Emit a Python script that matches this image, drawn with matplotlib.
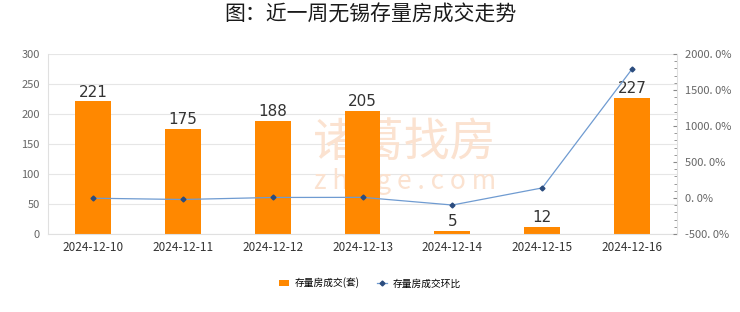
import numpy as np
import matplotlib.pyplot as plt
from matplotlib.ticker import MultipleLocator

plt.rcParams['font.family'] = ['Noto Sans CJK SC', 'DejaVu Sans']

dates = ['2024-12-10', '2024-12-11', '2024-12-12', '2024-12-13',
         '2024-12-14', '2024-12-15', '2024-12-16']
deals = [221, 175, 188, 205, 5, 12, 227]
ratio = [-3.0, -20.8, 7.4, 9.0, -97.6, 140.0, 1791.7]

left_ticks = [0, 50, 100, 150, 200, 250, 300]
right_ticks = [-500, 0, 500, 1000, 1500, 2000]
right_labels = ['-500. 0%', '0. 0%', '500. 0%', '1000. 0%', '1500. 0%', '2000. 0%']

fig = plt.figure(figsize=(7.4, 3.12), dpi=100)
ax = fig.add_axes([48/740, 1-234/312, 629/740, 180/312])
ax2 = ax.twinx()

x = np.arange(len(dates))
ax.bar(x, deals, width=0.4, color='#FF8800', zorder=2, label='存量房成交(套)')
for xi, v in zip(x, deals):
    ax.text(xi, v + 3, str(v), ha='center', va='bottom', fontsize=11,
            color='#333333', family='DejaVu Sans')

ax.set_xlim(-0.5, len(dates) - 0.5)
ax.set_ylim(0, 300)
ax.set_yticks(left_ticks)
ax.set_xticks(x)
ax.set_xticklabels(dates, fontsize=8.5, color='#333333')
ax.tick_params(axis='x', length=0, pad=5)
ax.tick_params(axis='y', length=0, labelsize=8, labelcolor='#666666', pad=6)
ax.grid(axis='y', color='#E6E6E6', linewidth=0.8, zorder=0)
ax.set_axisbelow(True)
for s in ['top', 'right']:
    ax.spines[s].set_visible(False)
ax.spines['left'].set_color('#E0E0E0')
ax.spines['bottom'].set_color('#E0E0E0')

# watermark
ax.text(3.47, 152, '诸葛找房', ha='center', va='center', fontsize=33,
        color='#FBE2D0', zorder=1)
ax.text(3.47, 88, 'z h u g e . c o m', ha='center', va='center', fontsize=19,
        color='#FBE2D0', zorder=1)

ax2.plot(x, ratio, color='#6F9BD1', linewidth=0.9, marker='D', markersize=2.5,
         markerfacecolor='#2B4C7E', markeredgecolor='#2B4C7E', label='存量房成交环比', zorder=3)
ax2.set_ylim(-500, 2000)
ax2.set_yticks(right_ticks)
ax2.set_yticklabels(right_labels)
ax2.yaxis.set_minor_locator(MultipleLocator(100))
ax2.tick_params(axis='y', which='major', direction='in', length=3, color='#888888',
                labelsize=8, labelcolor='#666666', pad=6)
ax2.tick_params(axis='y', which='minor', direction='in', length=2, color='#888888')
for s in ['top', 'left', 'bottom']:
    ax2.spines[s].set_visible(False)
ax2.spines['right'].set_color('#E0E0E0')
ax.set_zorder(ax2.get_zorder() - 1)
ax.patch.set_visible(True)
ax2.patch.set_visible(False)

fig.suptitle('图：近一周无锡存量房成交走势', x=0.5, y=0.99, fontsize=15, color='#1A1A1A')

h1, l1 = ax.get_legend_handles_labels()
h2, l2 = ax2.get_legend_handles_labels()
fig.legend(h1 + h2, l1 + l2, loc='center', bbox_to_anchor=(0.5, 1-283/312), ncol=2,
           frameon=False, fontsize=7, handlelength=1.0, handleheight=0.6,
           columnspacing=1.8, handletextpad=0.6)

fig.savefig('out.png', dpi=100, facecolor='white')
